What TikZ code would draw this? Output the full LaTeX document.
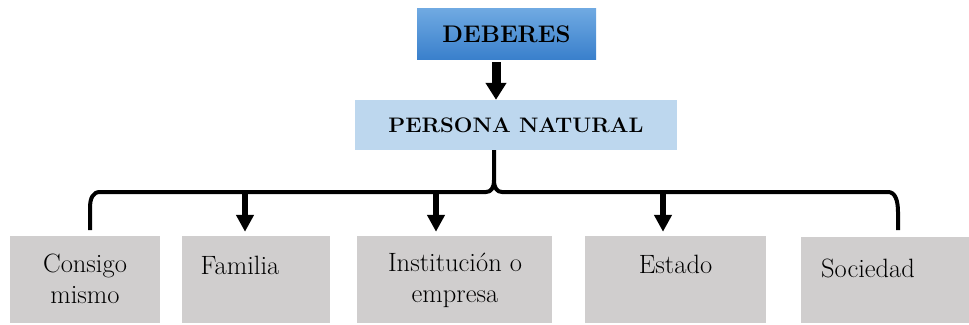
\documentclass[tikz,border=0pt]{standalone}
\usepackage{fontspec}
\usetikzlibrary{arrows.meta,calc}
\definecolor{boxgray}{RGB}{208,206,206}
\definecolor{lightblue}{RGB}{189,215,238}
\definecolor{bluetop}{RGB}{112,170,226}
\definecolor{bluebot}{RGB}{58,128,204}
\begin{document}
\begin{tikzpicture}[x=1pt,y=-1pt,
  graybox/.style={fill=boxgray, draw=none, inner sep=0pt, minimum height=87pt},
  txt/.style={inner sep=0pt, anchor=base, font=\fontsize{26.5}{31}\selectfont},
  bracepath/.style={line width=4pt, line join=round},
  arr/.style={line width=6pt, -{Triangle[length=17pt,width=17pt]}},
  bigarr/.style={line width=9pt, -{Triangle[length=17pt,width=20pt]}}]
\useasboundingbox (0,0) rectangle (969,324);
% top boxes
\node[inner sep=0pt, minimum width=179pt, minimum height=51pt,
      top color=bluetop, bottom color=bluebot] (deberes) at (506.5,33.5) {};
\node[inner sep=0pt, font=\bfseries\fontsize{24}{31}\selectfont] (tdeberes) at (506.5,34) {DEBERES};
\node[inner sep=0pt, minimum width=322pt, minimum height=50pt, fill=lightblue] (persona) at (516,125) {};
\node[inner sep=0pt, font=\bfseries\fontsize{21}{29}\selectfont] (tpersona) at (516,125.5) {\scalebox{1.05}[1]{PERSONA NATURAL}};
% gray boxes
\node[graybox, minimum width=150pt] (c1) at (85,279.5) {};
\node[graybox, minimum width=148pt] (c2) at (256,279.5) {};
\node[graybox, minimum width=195pt] (c3) at (454.5,279.5) {};
\node[graybox, minimum width=181pt] (c4) at (675.5,279.5) {};
\node[graybox, minimum width=168pt, minimum height=86pt] (c5) at (885,280) {};
% texts
\node[txt] (t1) at (85,272) {\begin{tabular}[t]{@{}c@{}}Consigo\\mismo\end{tabular}};
\node[txt] (t2) at (240,274) {Familia};
\node[txt] (t3) at (455,271) {\begin{tabular}[t]{@{}c@{}}Institución o\\empresa\end{tabular}};
\node[txt] (t4) at (675.5,273) {Estado};
\node[txt] (t5) at (868,277) {Sociedad};
% arrow deberes -> persona
\coordinate (topx) at (496,0);
\draw[bigarr, shorten <=3pt] (deberes.south -| topx) -- (persona.north -| topx);
% brace
\coordinate (stem) at (494,150);
\coordinate (cusp) at (494,180);
\coordinate (lend) at (90,230);
\coordinate (rend) at (898,230);
\draw[bracepath] (stem) -- (cusp)
  .. controls (494,188) and (491,192) .. (486,192) -- (100,192)
  .. controls (93,192) and (90,198) .. (90,208) -- (lend);
\draw[bracepath] (cusp)
  .. controls (494,188) and (497,192) .. (502,192) -- (888,192)
  .. controls (895,192) and (898,200) .. (898,212) -- (rend);
% arrows to boxes
\coordinate (a2) at (245,192);
\coordinate (a3) at (436,192);
\coordinate (a4) at (663,192);
\draw[arr, shorten >=4pt] (a2) -- (a2 |- c2.north);
\draw[arr, shorten >=4pt] (a3) -- (a3 |- c3.north);
\draw[arr, shorten >=4pt] (a4) -- (a4 |- c4.north);
\end{tikzpicture}
\end{document}
